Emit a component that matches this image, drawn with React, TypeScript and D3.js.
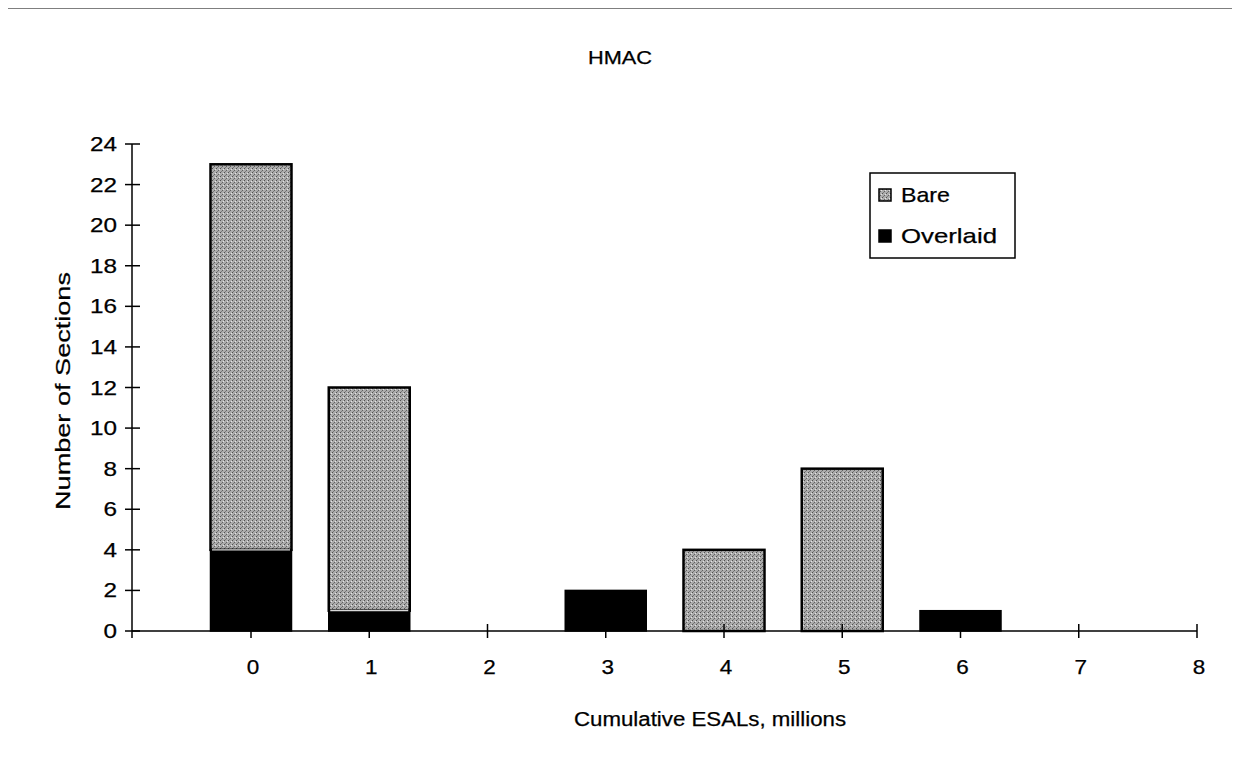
import { useEffect, useRef } from "react";
import * as d3 from "d3";

const categories = [0, 1, 2, 3, 4, 5, 6, 7, 8];
const bareValues = [19, 11, 0, 0, 4, 8, 0, 0, 0];
const overlaidValues = [4, 1, 0, 2, 0, 0, 1, 0, 0];
const yTicks = [0, 2, 4, 6, 8, 10, 12, 14, 16, 18, 20, 22, 24];
const seriesNames = ["Bare", "Overlaid"];

export default function App() {
  const svgRef = useRef(null);

  useEffect(() => {
    const width = 1240;
    const height = 776;
    const font = "'Liberation Sans', Arial, sans-serif";

    const svg = d3.select(svgRef.current);
    svg.selectAll("*").remove();
    svg.attr("width", width).attr("height", height);

    // stipple pattern for the grey series
    const defs = svg.append("defs");
    const pat = defs.append("pattern")
      .attr("id", "stipple")
      .attr("width", 4)
      .attr("height", 4)
      .attr("patternUnits", "userSpaceOnUse");
    pat.append("rect").attr("width", 4).attr("height", 4).attr("fill", "#acacac");
    pat.append("rect").attr("x", 0).attr("y", 0).attr("width", 1).attr("height", 1).attr("fill", "#505050");
    pat.append("rect").attr("x", 2).attr("y", 2).attr("width", 1).attr("height", 1).attr("fill", "#606060");
    pat.append("rect").attr("x", 1).attr("y", 3).attr("width", 1).attr("height", 1).attr("fill", "#7a7a7a");
    pat.append("rect").attr("x", 3).attr("y", 1).attr("width", 1).attr("height", 1).attr("fill", "#e4e4e4");

    svg.append("rect").attr("width", width).attr("height", height).attr("fill", "white");

    // outer frame
    svg.append("path")
      .attr("d", "M5,776 L5,7 L1236,7 L1236,776")
      .attr("fill", "none").attr("stroke", "#000").attr("stroke-width", 3);

    const x = d3.scaleLinear().domain([0, 8]).range([251, 1197]);
    const y = d3.scaleLinear().domain([0, 24]).range([631, 144]);
    const barW = 81;
    const x0 = 132;

    const g = svg.append("g");

    const label = (sel: any, txt: string, size: number, len: number) =>
      sel.attr("font-family", font)
        .attr("font-size", size)
        .attr("fill", "#000")
        .attr("stroke", "#000")
        .attr("stroke-width", 0.25)
        .attr("textLength", len)
        .attr("lengthAdjust", "spacingAndGlyphs")
        .text(txt);

    // bars
    categories.forEach((c, i) => {
      const o = overlaidValues[i];
      const b = bareValues[i];
      if (b > 0) {
        g.append("rect")
          .attr("x", x(c) - barW / 2)
          .attr("y", y(o + b))
          .attr("width", barW)
          .attr("height", y(o) - y(o + b))
          .attr("fill", "url(#stipple)")
          .attr("stroke", "#000")
          .attr("stroke-width", 2.5);
      }
      if (o > 0) {
        g.append("rect")
          .attr("x", x(c) - barW / 2)
          .attr("y", y(o))
          .attr("width", barW)
          .attr("height", y(0) - y(o))
          .attr("fill", "#000")
          .attr("stroke", "#000")
          .attr("stroke-width", 1.5);
        if (b > 0) {
          g.append("line")
            .attr("x1", x(c) - barW / 2 + 1.5).attr("x2", x(c) + barW / 2 - 1.5)
            .attr("y1", y(o)).attr("y2", y(o))
            .attr("stroke", "#d8d8d8").attr("stroke-width", 1.2);
        }
      }
    });

    // y axis
    g.append("line")
      .attr("x1", x0).attr("x2", x0)
      .attr("y1", y(24)).attr("y2", y(0))
      .attr("stroke", "#000").attr("stroke-width", 1.5);
    yTicks.forEach((t) => {
      g.append("line")
        .attr("x1", 125).attr("x2", 140)
        .attr("y1", y(t)).attr("y2", y(t))
        .attr("stroke", "#000").attr("stroke-width", 1.5);
      label(
        g.append("text")
          .attr("x", 117).attr("y", y(t) + 7)
          .attr("text-anchor", "end"),
        String(t), 20, String(t).length * 13.5
      );
    });

    // x axis
    g.append("line")
      .attr("x1", x0).attr("x2", x(8))
      .attr("y1", y(0)).attr("y2", y(0))
      .attr("stroke", "#000").attr("stroke-width", 1.5);
    g.append("line")
      .attr("x1", x0).attr("x2", x0)
      .attr("y1", y(0)).attr("y2", y(0) + 7)
      .attr("stroke", "#000").attr("stroke-width", 1.5);
    categories.forEach((c) => {
      g.append("line")
        .attr("x1", x(c)).attr("x2", x(c))
        .attr("y1", y(0) - 7).attr("y2", y(0) + 7)
        .attr("stroke", "#000").attr("stroke-width", 1.5);
      label(
        g.append("text")
          .attr("x", x(c) + 2).attr("y", 674)
          .attr("text-anchor", "middle"),
        String(c), 20, 12.5
      );
    });

    // titles
    label(
      svg.append("text").attr("x", 620).attr("y", 64).attr("text-anchor", "middle"),
      "HMAC", 18, 64
    );
    label(
      svg.append("text").attr("x", 710).attr("y", 726).attr("text-anchor", "middle"),
      "Cumulative ESALs, millions", 20, 272
    );
    label(
      svg.append("text").attr("transform", "translate(70,391) rotate(-90)").attr("text-anchor", "middle"),
      "Number of Sections", 21, 238
    );

    // legend
    const lg = svg.append("g").attr("transform", "translate(870,173)");
    lg.append("rect")
      .attr("width", 145).attr("height", 85)
      .attr("fill", "white").attr("stroke", "#000").attr("stroke-width", 1.5);
    seriesNames.forEach((name, i) => {
      const base = 29 + i * 41;
      lg.append("rect")
        .attr("x", 9).attr("y", base - 13)
        .attr("width", 12).attr("height", 12)
        .attr("fill", i === 0 ? "url(#stipple)" : "#000")
        .attr("stroke", "#000").attr("stroke-width", 1.5);
      label(
        lg.append("text").attr("x", 31).attr("y", base),
        name, 21, i === 0 ? 49 : 96
      );
    });
  }, []);

  return (
    <div style={{ margin: -8 }}>
      <svg ref={svgRef} style={{ display: "block" }}></svg>
    </div>
  );
}
